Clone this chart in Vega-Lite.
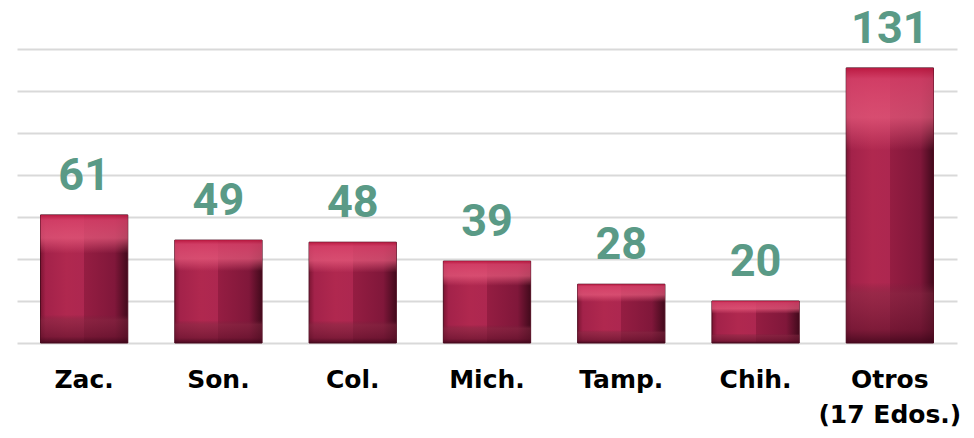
{
  "$schema": "https://vega.github.io/schema/vega-lite/v6.json",
  "width": 940,
  "height": 294,
  "autosize": {"type": "none"},
  "padding": {"left": 17, "top": 49, "right": 17, "bottom": 95},
  "background": "white",
  "config": {"view": {"stroke": null}},
  "data": {
    "values": [
      {"estado": "Zac.", "casos": 61},
      {"estado": "Son.", "casos": 49},
      {"estado": "Col.", "casos": 48},
      {"estado": "Mich.", "casos": 39},
      {"estado": "Tamp.", "casos": 28},
      {"estado": "Chih.", "casos": 20},
      {"estado": "Otros (17 Edos.)", "casos": 131}
    ]
  },
  "encoding": {
    "x": {
      "field": "estado",
      "type": "nominal",
      "sort": null,
      "scale": {"paddingInner": 0.35, "paddingOuter": 0.175},
      "axis": {
        "title": null,
        "labelAngle": 0,
        "ticks": false,
        "domain": false,
        "labelFont": "DejaVu Sans",
        "labelFontWeight": "bold",
        "labelFontSize": 25,
        "labelColor": "#000000",
        "labelPadding": 24,
        "labelLineHeight": 35,
        "labelExpr": "datum.value == 'Otros (17 Edos.)' ? ['Otros', '(17 Edos.)'] : datum.value"
      }
    },
    "y": {
      "field": "casos",
      "type": "quantitative",
      "scale": {"domain": [0, 140], "nice": false},
      "axis": {
        "title": null,
        "labels": false,
        "ticks": false,
        "domain": false,
        "values": [0, 20, 40, 60, 80, 100, 120, 140],
        "gridColor": "#d9d9d9",
        "gridWidth": 2
      }
    }
  },
  "layer": [
    {
      "mark": {
        "type": "bar",
        "stroke": "#4f0c20",
        "strokeWidth": 1,
        "fill": {
          "gradient": "linear",
          "x1": 0, "y1": 0, "x2": 1, "y2": 0,
          "stops": [
            {"offset": 0, "color": "#7c1533"},
            {"offset": 0.06, "color": "#a3224a"},
            {"offset": 0.3, "color": "#b0284f"},
            {"offset": 0.5, "color": "#ad2750"},
            {"offset": 0.5, "color": "#951d42"},
            {"offset": 0.85, "color": "#80173a"},
            {"offset": 1, "color": "#420a1c"}
          ]
        }
      }
    },
    {
      "mark": {
        "type": "bar",
        "fill": {
          "gradient": "linear",
          "x1": 0, "y1": 0, "x2": 0, "y2": 1,
          "stops": [
            {"offset": 0, "color": "rgba(190,25,65,0.9)"},
            {"offset": 0.04, "color": "rgba(215,65,105,0.85)"},
            {"offset": 0.18, "color": "rgba(232,92,126,0.7)"},
            {"offset": 0.3, "color": "rgba(235,95,128,0)"},
            {"offset": 0.78, "color": "rgba(110,30,55,0)"},
            {"offset": 0.82, "color": "rgba(130,40,65,0.5)"},
            {"offset": 0.95, "color": "rgba(100,20,45,0.65)"},
            {"offset": 1, "color": "rgba(60,5,25,0.85)"}
          ]
        }
      }
    },
    {
      "mark": {
        "type": "text",
        "font": "Roboto",
        "fontWeight": "bold",
        "fontSize": 45,
        "color": "#5a9a86",
        "baseline": "alphabetic",
        "dy": -25
      },
      "encoding": {"text": {"field": "casos", "type": "quantitative"}}
    }
  ]
}
